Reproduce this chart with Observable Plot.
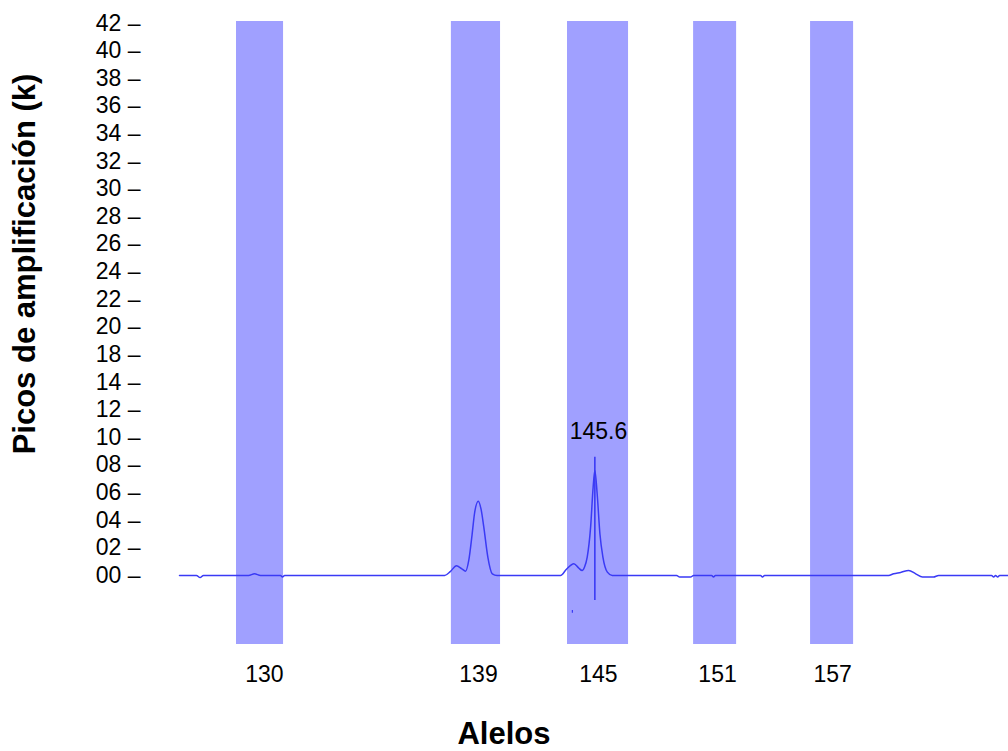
<!DOCTYPE html>
<html>
<head>
<meta charset="utf-8">
<script src="https://cdn.jsdelivr.net/npm/d3@7"></script>
<script src="https://cdn.jsdelivr.net/npm/@observablehq/plot@0.6"></script>
<style>
  html, body { margin: 0; padding: 0; background: #ffffff; }
  #chart svg { display: block; }
</style>
</head>
<body>
<div id="chart"></div>
<script>
// Electropherogram trace (position in scan units, amplitude in k)
const traceX = [126.20, 127.00, 127.17, 127.33, 129.46, 129.74, 130.02, 130.97, 131.06, 131.16,
  138.71, 138.99, 139.27, 139.51, 139.70, 139.85, 140.01, 140.12, 140.30, 140.43, 140.56, 140.75, 140.96, 141.19,
  144.18, 144.46, 144.81, 145.03, 145.20, 145.31, 145.44, 145.60, 145.72, 145.80, 145.91, 146.04, 146.18, 146.39, 146.62,
  149.66, 149.80, 150.32, 150.46, 151.31, 151.40, 151.49, 153.62, 153.71, 153.81,
  159.66, 159.90, 160.23, 160.61, 160.94, 161.26, 161.78, 162.02, 164.52, 164.62, 164.71, 164.81, 164.90, 165.32];
const traceY = [0, 0, -0.15, 0, 0, 0.12, 0, 0, -0.12, 0,
  0, 0.3, 0.7, 0.5, 0.31, 1.09, 3.0, 4.47, 5.38, 4.8, 3.5, 1.33, 0.12, 0,
  0, 0.45, 0.85, 0.55, 0.36, 0.6, 1.33, 3.5, 6.4, 7.6, 5.9, 3.0, 1.33, 0.24, 0,
  0, -0.12, -0.12, 0, 0, -0.12, 0, 0, -0.12, 0,
  0, 0.12, 0.22, 0.36, 0.12, -0.12, -0.12, 0, 0, -0.12, 0, -0.12, 0, 0];

// Allele bins (start / end in scan units)
const binLo = [128.89, 139.03, 144.51, 150.46, 155.98];
const binHi = [131.11, 141.35, 147.39, 152.49, 158.01];

// X tick labels and where they sit
const xTickPos = [130.21, 140.31, 145.97, 151.59, 157.02];
const xTickLabels = ["130", "139", "145", "151", "157"];

// Y tick positions and their printed labels (as in the original, 16 is absent)
const yTickPos = [0, 2, 4, 6, 8, 10, 12, 14, 16, 18, 20, 22, 24, 26, 28, 30, 32, 34, 36, 38, 40];
const yTickLabels = ["00", "02", "04", "06", "08", "10", "12", "14", "18", "20", "22", "24", "26", "28", "30", "32", "34", "36", "38", "40", "42"];

// Called peak marker
const peakX = [145.80];
const peakTop = [8.57];
const peakBottom = [-1.81];
const peakLabel = ["145.6"];
const peakLabelX = [145.97];
const peakLabelY = [10.45];

// small artifact tick below the baseline
const artifactX = [144.74];
const artifactY1 = [-2.53];
const artifactY2 = [-2.73];

const xLabel = "Alelos";
const yLabel = "Picos de amplificación (k)";

const trace = traceX.map((x, i) => ({x, y: traceY[i]}));
const bins = binLo.map((lo, i) => ({lo, hi: binHi[i]}));
const xMap = new Map(xTickPos.map((p, i) => [p, xTickLabels[i]]));
const yMap = new Map(yTickPos.map((p, i) => [p, yTickLabels[i]]));
const peaks = peakX.map((x, i) => ({x, y1: peakBottom[i], y2: peakTop[i]}));
const peakTexts = peakLabel.map((t, i) => ({t, x: peakLabelX[i], y: peakLabelY[i]}));
const artifacts = artifactX.map((x, i) => ({x, y1: artifactY1[i], y2: artifactY2[i]}));

const FONT = "'Liberation Sans', Arial, Helvetica, sans-serif";
const LINE = "#3a3af5";

const chart = Plot.plot({
  width: 1008,
  height: 751,
  marginLeft: 179,
  marginRight: 0,
  marginTop: 21,
  marginBottom: 107,
  style: {fontFamily: FONT, fontSize: "23px", color: "#000", background: "#fff", overflow: "visible"},
  x: {type: "linear", domain: [126.20, 165.32]},
  y: {type: "linear", domain: [-5.0, 40.12]},
  marks: [
    Plot.rect(bins, {x1: "lo", x2: "hi", fill: "#a0a0ff"}),
    Plot.line(trace, {x: "x", y: "y", stroke: LINE, strokeWidth: 1.5, curve: "monotone-x"}),
    Plot.ruleX(peaks, {x: "x", y1: "y1", y2: "y2", stroke: LINE, strokeWidth: 1.6}),
    Plot.ruleX(artifacts, {x: "x", y1: "y1", y2: "y2", stroke: LINE, strokeWidth: 1.2}),
    Plot.text(peakTexts, {x: "x", y: "y", text: "t", fontSize: 23, fill: "#000"}),
    Plot.axisX({ticks: xTickPos, tickFormat: d => xMap.get(d), tickSize: 0, tickPadding: 21, fontSize: 23, label: null}),
    Plot.axisY({ticks: yTickPos, tickFormat: d => yMap.get(d) + " –", tickSize: 0, tickPadding: 39, fontSize: 23, label: null}),
    Plot.text([xLabel], {text: d => d, frameAnchor: "bottom", textAnchor: "middle", lineAnchor: "middle", dx: -90, dy: 90, fontSize: 31, fontWeight: "bold", fill: "#000"}),
    Plot.text([yLabel], {text: d => d, frameAnchor: "left", textAnchor: "middle", lineAnchor: "middle", rotate: -90, dx: -154, dy: -69, fontSize: 31, fontWeight: "bold", fill: "#000"})
  ]
});
document.getElementById("chart").appendChild(chart);
</script>
</body>
</html>
